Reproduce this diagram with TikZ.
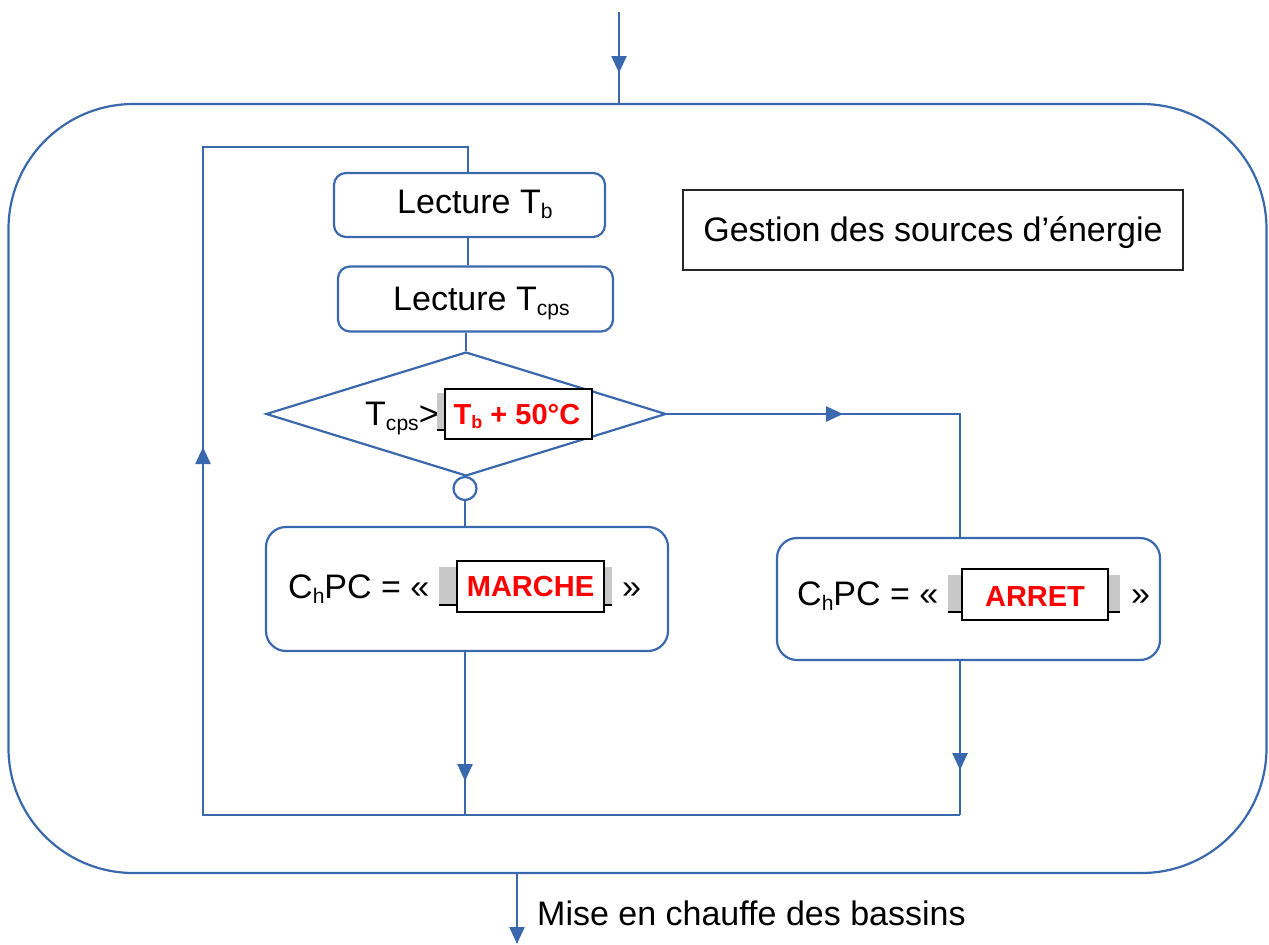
\documentclass[tikz,border=0pt]{standalone}
\usepackage{fontspec}
\setmainfont{Liberation Sans}
\usetikzlibrary{arrows.meta,decorations.markings,shapes.geometric}
\definecolor{fc}{HTML}{3A68AD}
\definecolor{fieldgray}{HTML}{C8C8C8}
\newcommand\lsub[1]{\raisebox{-0.15em}{\scalebox{0.62}{#1}}}
\begin{document}
\begin{tikzpicture}[x=1pt,y=-1pt,
  flow/.style={draw=fc,line width=2.2pt},
  box/.style={draw=fc,line width=2.2pt,rounded corners=#1,inner sep=0pt},
  txt/.style={inner sep=0pt,font=\fontsize{34}{40}\selectfont},
  redtxt/.style={inner sep=0pt,text=red,font=\fontsize{29}{34}\selectfont\bfseries},
  whitebox/.style={draw=black,line width=1.3pt,fill=white,inner sep=0pt},
  marrow/.style={postaction={decorate},decoration={markings,mark=at position #1 with {\arrow{Triangle[length=17pt,width=15pt]}}}}
]
\useasboundingbox (0,0) rectangle (1269,945);

% outer frame
\node[box=125pt,minimum width=1258pt,minimum height=769pt] (outer) at (637.5,488.5) {};

% boxes
\node[box=12pt,minimum width=271pt,minimum height=64pt] (tb) at (469.5,205) {};
\node[box=12pt,minimum width=275pt,minimum height=65pt] (tcps) at (475.5,299) {};
\node[draw=fc,line width=2.2pt,diamond,minimum width=400pt,minimum height=124pt,inner sep=0pt] (dec) at (466,414) {};
\node[draw=fc,line width=2.2pt,circle,minimum size=23pt,inner sep=0pt] (circ) at (465,488.5) {};
\node[box=20pt,minimum width=402pt,minimum height=124pt] (marche) at (467,589) {};
\node[box=20pt,minimum width=383pt,minimum height=122pt] (arret) at (968.5,599) {};
\node[draw=black!85,line width=1.8pt,minimum width=500pt,minimum height=80pt,inner sep=0pt] (gest) at (933,230) {};

% helper coordinates
\coordinate (colx) at (468,0);
\coordinate (mx) at (465,0);
\coordinate (lbl) at (203,815);
\coordinate (ltl) at (203,147);
\coordinate (rb) at (960,815);
\coordinate (tin) at (619,12);
\coordinate (tout) at (517,944);

% connectors
\draw[flow,marrow=61pt] (tin) -- (tin |- outer.north);
\draw[flow] (colx |- tb.south) -- (colx |- tcps.north);
\draw[flow] (dec.north |- tcps.south) -- (dec.north);
\draw[flow] (circ.south) -- (circ.south |- marche.north);
\draw[flow,marrow=176pt] (dec.east) -- (rb |- dec.east) -- (rb |- arret.north);
\draw[flow,marrow=129pt] (mx |- marche.south) -- (mx |- lbl);
\draw[flow,marrow=109pt] (rb |- arret.south) -- (rb);
\draw[flow,marrow=1125pt] (rb) -- (lbl) -- (ltl) -- (colx |- ltl) -- (colx |- tb.north);
\draw[flow,-{Triangle[length=17pt,width=15pt]}] (outer.south -| tout) -- (tout);

% texts
\node[txt,anchor=base west] (ltb) at (397,213) {Lecture T\lsub{b}};
\node[txt,anchor=base west] (ltcps) at (393,310) {Lecture T\lsub{cps}};
\node[txt,anchor=base] (lgest) at (933,241) {Gestion des sources d’énergie};
\node[txt,anchor=base west] (lmise) at (537,925) {Mise en chauffe des bassins};

% decision field
\fill[fieldgray] (437,393) rectangle (450,430);
\draw[black,line width=1.3pt] (437,430) -- (446,430);
\node[whitebox,minimum width=147pt,minimum height=50pt] (f1) at (518.5,414) {};
\node[txt,anchor=base west] (ltc) at (365,425) {T\lsub{cps}>};
\node[redtxt,anchor=base] (r1) at (517,424) {T\lsub{b} + 50°C};

% MARCHE field
\node[txt,anchor=base west] (cm) at (288,598) {C\lsub{h}PC = «};
\fill[fieldgray] (439,567) rectangle (612,605);
\draw[black,line width=1.3pt] (439,605) -- (612,605);
\node[whitebox,minimum width=147pt,minimum height=51pt] (f2) at (530.5,586.5) {};
\node[redtxt,anchor=base] (r2) at (530.5,596) {MARCHE};
\node[txt,anchor=base west] (qm) at (622,598) {»};

% ARRET field
\node[txt,anchor=base west] (ca) at (797,605) {C\lsub{h}PC = «};
\fill[fieldgray] (948,575) rectangle (1120,612);
\draw[black,line width=1.3pt] (948,612) -- (1120,612);
\node[whitebox,minimum width=146pt,minimum height=51pt] (f3) at (1035,594.5) {};
\node[redtxt,anchor=base] (r3) at (1035,606) {ARRET};
\node[txt,anchor=base west] (qa) at (1131,605) {»};
\end{tikzpicture}
\end{document}
